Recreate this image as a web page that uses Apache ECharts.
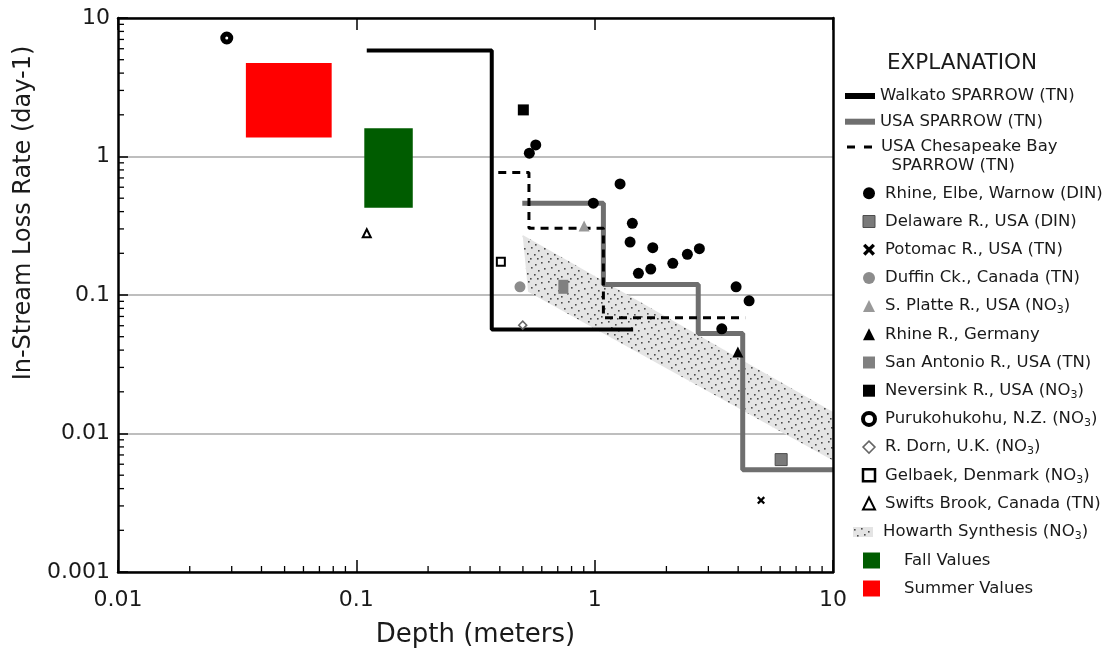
<!DOCTYPE html>
<html>
<head>
<meta charset="utf-8">
<script src="https://cdn.jsdelivr.net/npm/echarts@6/dist/echarts.min.js"></script>
<style>
html,body{margin:0;padding:0;background:#fff;}
#chart{width:1109px;height:654px;}
</style>
</head>
<body>
<div id="chart"></div>
<script>
// ---------------- data ----------------
const xTickLabels = ['0.01', '0.1', '1', '10'];
const yTickLabels = ['0.001', '0.01', '0.1', '1', '10'];

const lineNames = ['Walkato SPARROW (TN)', 'USA SPARROW (TN)', 'USA Chesapeake Bay SPARROW (TN)'];
const walkatoX = [0.1106, 0.370, 0.370, 1.45];
const walkatoY = [5.83, 5.83, 0.0564, 0.0564];
const usaSparrowX = [0.497, 1.088, 1.088, 2.72, 2.72, 4.18, 4.18, 10];
const usaSparrowY = [0.46, 0.46, 0.119, 0.119, 0.0528, 0.0528, 0.00548, 0.00548];
const chesapeakeX = [0.394, 0.530, 0.530, 1.088, 1.088, 4.28];
const chesapeakeY = [0.765, 0.765, 0.303, 0.303, 0.0684, 0.0684];

const pointNames = [
  'Rhine, Elbe, Warnow (DIN)', 'Delaware R., USA (DIN)', 'Potomac R., USA (TN)',
  'Duffin Ck., Canada (TN)', 'S. Platte R., USA (NO3)', 'Rhine R., Germany',
  'San Antonio R., USA (TN)', 'Neversink R., USA (NO3)', 'Purukohukohu, N.Z. (NO3)',
  'R. Dorn, U.K. (NO3)', 'Gelbaek, Denmark (NO3)', 'Swifts Brook, Canada (TN)'
];
const rhineElbeWarnowX = [0.532, 0.566, 1.278, 0.987, 1.439, 1.408, 1.753, 1.526, 1.719, 2.127, 2.449, 2.750, 3.921, 4.446, 3.415];
const rhineElbeWarnowY = [1.057, 1.213, 0.634, 0.460, 0.329, 0.241, 0.2195, 0.1433, 0.154, 0.1693, 0.1966, 0.2158, 0.1146, 0.0908, 0.057];
const delawareX = [6.06];        const delawareY = [0.00648];
const potomacX = [4.99];         const potomacY = [0.00329];
const duffinX = [0.486];         const duffinY = [0.1146];
const sPlatteX = [0.903];        const sPlatteY = [0.315];
const rhineGermanyX = [3.99];    const rhineGermanyY = [0.0388];
const sanAntonioX = [0.739];     const sanAntonioY = [0.1146];
const neversinkX = [0.502];      const neversinkY = [2.17];
const purukohukohuX = [0.0286];  const purukohukohuY = [7.17];
const rDornX = [0.499];          const rDornY = [0.0606];
const gelbaekX = [0.404];        const gelbaekY = [0.174];
const swiftsBrookX = [0.1106];   const swiftsBrookY = [0.279];

const howarthName = 'Howarth Synthesis (NO3)';
const howarthX = [0.499, 10, 10, 0.5255];
const howarthY = [0.271, 0.0143, 0.00638, 0.1055];

const boxNames = ['Fall Values', 'Summer Values'];
const fallX = [0.108, 0.1725];   const fallY = [0.427, 1.60];
const summerX = [0.0344, 0.0788]; const summerY = [1.37, 4.73];

// ---------------- styling helpers ----------------
const FONT = "'DejaVu Sans', 'Liberation Sans', sans-serif";
const TXT = '#1a1a1a';
const pts = (xs, ys) => xs.map((x, i) => [x, ys[i]]);

function dotPattern() {
  const c = document.createElement('canvas');
  c.width = 20; c.height = 20;
  const g = c.getContext('2d');
  g.fillStyle = '#e4e4e4'; g.fillRect(0, 0, 20, 20);
  g.fillStyle = '#4a4a4a';
  [[1,2],[8,1],[15,4],[4,8],[11,7],[18,10],[7,13],[14,14],[1,16],[10,18],[17,18]]
    .forEach(d => g.fillRect(d[0], d[1], 1.6, 1.6));
  return { image: c, repeat: 'repeat' };
}
const bandFill = dotPattern();

const subFmt = name => name.replace(/NO3/g, 'NO{sub|3}');
const legendText = extra => Object.assign({
  fontFamily: FONT, fontSize: 16.5, color: TXT, lineHeight: 20,
  rich: { sub: { fontFamily: FONT, fontSize: 11, lineHeight: 8, verticalAlign: 'bottom', color: TXT } }
}, extra || {});

const X_PATH = 'path://M0,2L2,0L5,3L8,0L10,2L7,5L10,8L8,10L5,7L2,10L0,8L3,5Z';

const pointSpecs = [
  { x: rhineElbeWarnowX, y: rhineElbeWarnowY, symbol: 'circle', size: 11, style: { color: '#000' } },
  { x: delawareX, y: delawareY, symbol: 'rect', size: 12, style: { color: '#7a7a7a', borderColor: '#4d4d4d', borderWidth: 1 } },
  { x: potomacX, y: potomacY, symbol: X_PATH, size: 8, style: { color: '#000' } },
  { x: duffinX, y: duffinY, symbol: 'circle', size: 11, style: { color: '#8c8c8c' } },
  { x: sPlatteX, y: sPlatteY, symbol: 'triangle', size: 11, style: { color: '#999999' } },
  { x: rhineGermanyX, y: rhineGermanyY, symbol: 'triangle', size: 11, style: { color: '#000' } },
  { x: sanAntonioX, y: sanAntonioY, symbol: 'rect', size: [10, 14], style: { color: '#808080' } },
  { x: neversinkX, y: neversinkY, symbol: 'rect', size: 11, style: { color: '#000' } },
  { x: purukohukohuX, y: purukohukohuY, symbol: 'circle', size: 8, style: { color: '#fff', borderColor: '#000', borderWidth: 5 } },
  { x: rDornX, y: rDornY, symbol: 'diamond', size: 8, style: { color: '#fff', borderColor: '#666', borderWidth: 1.5 } },
  { x: gelbaekX, y: gelbaekY, symbol: 'rect', size: 8, style: { color: '#fff', borderColor: '#000', borderWidth: 2 } },
  { x: swiftsBrookX, y: swiftsBrookY, symbol: 'triangle', size: 8, style: { color: '#fff', borderColor: '#000', borderWidth: 2 } }
];
// legend icon border overrides (icons are drawn in a 12px box)
const legendIconStyle = {
  1: { borderWidth: 1 },
  8: { borderWidth: 4, borderColor: '#000', color: '#fff' },
  9: { borderWidth: 1.5, borderColor: '#666', color: '#fff' },
  10: { borderWidth: 2.5, borderColor: '#000', color: '#fff' },
  11: { borderWidth: 2, borderColor: '#000', color: '#fff' }
};

const series = [];

// Howarth band (polygon through the axis scales)
series.push({
  name: howarthName, type: 'custom', z: 2, silent: true,
  itemStyle: { color: bandFill },
  data: pts(howarthX, howarthY),
  renderItem: (params, api) => {
    if (params.dataIndex !== 0) return null;
    const poly = howarthX.map((x, i) => api.coord([x, howarthY[i]]));
    return { type: 'polygon', shape: { points: poly }, style: { fill: bandFill } };
  }
});

// Fall / Summer boxes
function boxSeries(name, xs, ys, color) {
  return {
    name, type: 'custom', z: 2, silent: true,
    itemStyle: { color },
    encode: { x: [0, 1], y: [2, 3] },
    data: [[xs[0], xs[1], ys[0], ys[1]]],
    renderItem: (params, api) => {
      const a = api.coord([api.value(0), api.value(3)]);
      const b = api.coord([api.value(1), api.value(2)]);
      return { type: 'rect', shape: { x: a[0], y: a[1], width: b[0] - a[0], height: b[1] - a[1] }, style: { fill: color } };
    }
  };
}
series.push(boxSeries(boxNames[0], fallX, fallY, '#005c00'));
series.push(boxSeries(boxNames[1], summerX, summerY, '#ff0000'));

// step lines
series.push({ name: lineNames[0], type: 'line', z: 3, symbol: 'none', data: pts(walkatoX, walkatoY),
  itemStyle: { color: '#000' }, lineStyle: { color: '#000', width: 4 } });
series.push({ name: lineNames[1], type: 'line', z: 3, symbol: 'none', data: pts(usaSparrowX, usaSparrowY),
  itemStyle: { color: '#6f6f6f' }, lineStyle: { color: '#6f6f6f', width: 5 } });
series.push({ name: lineNames[2], type: 'line', z: 4, symbol: 'none', data: pts(chesapeakeX, chesapeakeY),
  itemStyle: { color: '#000' }, lineStyle: { color: '#000', width: 3, type: [8, 6] } });

// points
pointSpecs.forEach((s, i) => {
  series.push({
    name: pointNames[i], type: 'scatter', z: 5,
    symbol: s.symbol, symbolSize: s.size,
    itemStyle: Object.assign({ opacity: 1 }, s.style),
    data: pts(s.x, s.y)
  });
});

// minor log ticks on left and bottom axes
series.push({
  type: 'custom', z: 6, silent: true, data: [[1, 1]],
  renderItem: (params, api) => {
    const children = [];
    for (let e = -3; e < 1; e++) {
      for (let m = 2; m <= 9; m++) {
        const p = api.coord([0.01, m * Math.pow(10, e)]);
        children.push({ type: 'line', shape: { x1: p[0], y1: p[1], x2: p[0] + 6, y2: p[1] }, style: { stroke: '#000', lineWidth: 1.3 } });
      }
    }
    for (let e = -2; e < 1; e++) {
      for (let m = 2; m <= 9; m++) {
        const p = api.coord([m * Math.pow(10, e), 0.001]);
        children.push({ type: 'line', shape: { x1: p[0], y1: p[1], x2: p[0], y2: p[1] - 6 }, style: { stroke: '#000', lineWidth: 1.3 } });
      }
    }
    return { type: 'group', children };
  }
});

const frameLine = { show: true, onZero: false, lineStyle: { color: '#000', width: 2.5 } };

const option = {
  animation: false,
  backgroundColor: '#fff',
  grid: { left: 118, right: 276, top: 18, bottom: 82, containLabel: false },
  title: {
    text: 'EXPLANATION', left: 887, top: 52, padding: 0,
    textStyle: { fontFamily: FONT, fontSize: 21.5, fontWeight: 'normal', color: TXT }
  },
  xAxis: [
    {
      type: 'log', logBase: 10, min: 0.01, max: 10, position: 'bottom',
      axisLine: frameLine,
      axisTick: { show: true, inside: true, length: 12, lineStyle: { color: '#000', width: 1.5 } },
      axisLabel: { fontFamily: FONT, fontSize: 22, color: TXT, margin: 17,
        formatter: v => xTickLabels[Math.round(Math.log10(v)) + 2] },
      splitLine: { show: false },
      name: 'Depth (meters)', nameLocation: 'middle', nameGap: 50,
      nameTextStyle: { fontFamily: FONT, fontSize: 26, color: TXT }
    },
    {
      type: 'log', logBase: 10, min: 0.01, max: 10, position: 'top', z: 10,
      axisLine: frameLine,
      axisTick: { show: true, inside: true, length: 12, lineStyle: { color: '#000', width: 1.5 } },
      axisLabel: { show: false }, splitLine: { show: false }
    }
  ],
  yAxis: [
    {
      type: 'log', logBase: 10, min: 0.001, max: 10, position: 'left',
      axisLine: frameLine,
      axisTick: { show: true, inside: true, length: 10, lineStyle: { color: '#000', width: 1.5 } },
      axisLabel: { fontFamily: FONT, fontSize: 22, color: TXT, margin: 8,
        formatter: v => yTickLabels[Math.round(Math.log10(v)) + 3] },
      splitLine: { show: true, lineStyle: { color: '#a9a9a9', width: 1.6 } },
      name: 'In-Stream Loss Rate (day-1)', nameLocation: 'middle', nameGap: 78, nameRotate: 90,
      nameTextStyle: { fontFamily: FONT, fontSize: 24, color: TXT, padding: [0, 0, 0, 164] }
    },
    {
      type: 'log', logBase: 10, min: 0.001, max: 10, position: 'right', z: 10,
      axisLine: frameLine, axisTick: { show: false }, axisLabel: { show: false }, splitLine: { show: false }
    }
  ],
  legend: [
    {
      data: [{ name: lineNames[0], icon: 'rect' }, { name: lineNames[1], icon: 'rect' }],
      orient: 'vertical', left: 845, top: 86, padding: 0, itemGap: 5.7,
      itemWidth: 30, itemHeight: 6, selectedMode: false,
      textStyle: legendText()
    },
    {
      data: [{ name: lineNames[2], icon: 'path://M0,0h8v3h-8zM17,0h8v3h-8z' }],
      orient: 'vertical', left: 847, top: 118.5, padding: 0,
      itemWidth: 25, itemHeight: 3, selectedMode: false,
      formatter: n => n.replace(' SPARROW', '\n  SPARROW'),
      textStyle: legendText({ lineHeight: 19, padding: [19, 0, 0, 4] })
    },
    {
      data: pointNames.map((n, i) => legendIconStyle[i] ? { name: n, itemStyle: legendIconStyle[i] } : { name: n }),
      orient: 'vertical', left: 861, top: 183.3, padding: 0, itemGap: 8.2,
      itemWidth: 12, itemHeight: 12, selectedMode: false,
      formatter: subFmt,
      textStyle: legendText({ padding: [0, 0, 0, 5] })
    },
    {
      data: [{ name: howarthName, icon: 'rect' }],
      orient: 'vertical', left: 853, top: 522, padding: 0,
      itemWidth: 20, itemHeight: 10, selectedMode: false,
      formatter: subFmt,
      textStyle: legendText({ padding: [0, 0, 0, 5] })
    },
    {
      data: boxNames.map(n => ({ name: n, icon: 'rect' })),
      orient: 'vertical', left: 863, top: 550.5, padding: 0, itemGap: 8,
      itemWidth: 17, itemHeight: 16, selectedMode: false,
      textStyle: legendText({ padding: [0, 0, 0, 19] })
    }
  ],
  series
};

const chart = echarts.init(document.getElementById('chart'), null, { renderer: 'canvas' });
chart.setOption(option);
</script>
</body>
</html>
